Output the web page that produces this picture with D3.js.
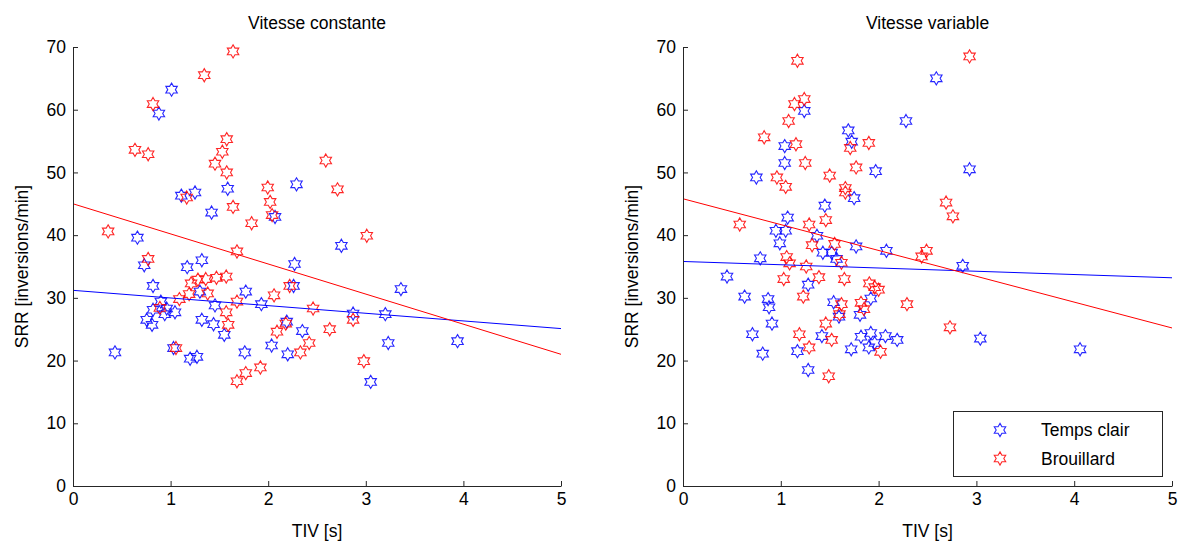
<!DOCTYPE html>
<html>
<head>
<meta charset="utf-8">
<script src="https://cdn.jsdelivr.net/npm/d3@7"></script>
<style>
  html, body { margin: 0; padding: 0; background: #fff; }
  svg text { font-family: "Liberation Sans", Arial, sans-serif; }
</style>
</head>
<body>
<svg id="chart" width="1180" height="547"></svg>
<script>
// ---------- data ----------
const xTicks = [0, 1, 2, 3, 4, 5];
const yTicks = [0, 10, 20, 30, 40, 50, 60, 70];
const panelTitles = ["Vitesse constante", "Vitesse variable"];
const seriesNames = ["Temps clair", "Brouillard"];
const xLabel = "TIV [s]";
const yLabel = "SRR [inversions/min]";

// Vitesse constante – Temps clair
const constClairTIV = [1.01,0.88,1.11,1.25,1.585,1.42,2.29,2.07,0.66,2.75,0.73,1.32,1.17,0.82,1.77,1.30,0.90,1.455,1.93,0.82,0.96,1.045,0.94,0.755,0.81,1.32,1.44,1.55,0.43,1.03,1.20,1.27,1.76,2.035,2.19,2.20,2.27,2.26,3.36,2.87,3.20,2.35,3.23,3.05,3.94];
const constClairSRR = [63.2,59.4,46.3,46.8,47.4,43.6,48.1,42.9,39.6,38.3,35.2,36.0,34.9,31.9,31.0,31.0,29.4,28.8,29.0,28.1,28.3,27.7,27.4,26.5,25.7,26.5,25.8,24.1,21.3,22.0,20.3,20.6,21.3,22.4,26.2,21.0,35.4,31.9,31.4,27.5,27.4,24.7,22.8,16.6,23.1];
// Vitesse constante – Brouillard
const constBrouTIV = [1.64,1.345,0.82,0.635,0.77,1.575,1.53,1.455,1.575,1.165,1.64,1.995,2.02,2.04,1.83,0.36,1.68,0.77,2.59,2.71,3.01,1.21,1.28,1.36,1.47,1.57,1.19,1.38,1.09,1.68,0.89,1.57,1.59,2.06,2.22,2.09,2.18,1.055,1.92,1.77,1.68,2.46,2.87,2.63,2.42,2.33,2.98];
const constBrouSRR = [69.3,65.5,60.9,53.6,52.9,55.3,53.3,51.4,50.0,46.0,44.5,47.6,45.3,43.2,41.9,40.6,37.4,36.2,51.9,47.3,39.9,32.3,32.9,33.0,33.2,33.4,30.6,30.7,29.8,29.4,28.4,27.7,25.7,30.4,31.9,24.6,25.9,22.0,18.9,18.0,16.7,28.3,26.5,25.0,22.8,21.3,19.9];
// Vitesse variable – Temps clair
const varClairTIV = [1.24,2.28,1.69,1.725,1.04,1.04,1.97,0.75,1.75,1.45,1.07,0.95,1.05,1.37,0.99,1.77,2.08,1.43,1.52,1.57,0.79,2.59,2.93,2.86,3.04,4.06,0.45,1.28,0.63,0.87,0.88,1.54,1.92,1.595,1.81,0.91,0.71,1.42,1.82,1.92,2.07,2.19,1.90,1.96,1.72,0.815,1.17,1.28];
const varClairSRR = [59.8,58.2,56.7,54.9,54.2,51.5,50.2,49.2,45.9,44.7,42.8,40.7,40.7,39.9,38.7,38.2,37.5,37.2,37.2,36.2,36.3,65.0,50.5,35.1,23.5,21.8,33.4,32.1,30.2,29.8,28.5,29.3,29.9,27.0,27.3,25.9,24.2,23.9,23.8,24.4,23.9,23.3,22.1,22.8,21.8,21.1,21.5,18.5];
// Vitesse variable – Brouillard
const varBrouTIV = [1.24,1.14,1.08,0.83,1.155,1.90,1.71,1.25,1.77,1.50,0.96,1.05,1.66,1.66,1.46,0.58,1.29,1.32,1.55,2.93,1.17,2.69,2.76,2.44,2.49,2.73,1.06,1.09,1.26,1.62,1.03,1.39,1.65,1.905,1.96,2.00,1.23,1.62,1.82,1.85,1.60,2.29,1.46,1.19,1.52,1.29,2.02,1.49];
const varBrouSRR = [61.7,60.9,58.2,55.6,54.5,54.7,53.9,51.5,50.8,49.5,49.2,47.7,47.5,46.8,42.4,41.7,41.7,38.4,38.6,68.5,67.8,45.2,43.0,36.6,37.5,25.3,36.5,35.5,35.0,35.6,33.0,33.3,33.0,32.3,31.7,31.3,30.2,29.0,29.2,28.2,27.4,29.0,25.9,24.2,23.3,22.1,21.4,17.5];

// Regression lines: SRR at TIV = 0 and TIV = 5
const fitX = [0, 5];
const constClairFit = [31.2, 25.1];
const constBrouFit = [45.0, 21.0];
const varClairFit = [35.8, 33.2];
const varBrouFit = [45.8, 25.2];

const colors = ["#0000ff", "#ff0000"];

// ---------- drawing ----------
const svg = d3.select("#chart");
const FONT = 17.5;
const panels = [
  { left: 73, right: 561, title: panelTitles[0],
    series: [ [constClairTIV, constClairSRR], [constBrouTIV, constBrouSRR] ],
    fits: [constClairFit, constBrouFit], legend: false },
  { left: 683, right: 1172, title: panelTitles[1],
    series: [ [varClairTIV, varClairSRR], [varBrouTIV, varBrouSRR] ],
    fits: [varClairFit, varBrouFit], legend: true }
];
const plotTop = 47, plotBottom = 486;

function hexagram(R) {
  const r = R / Math.sqrt(3);
  const pts = [];
  for (let k = 0; k < 12; k++) {
    const ang = (-90 + k * 30) * Math.PI / 180;
    const rad = (k % 2 === 0) ? R : r;
    pts.push([rad * Math.cos(ang), rad * Math.sin(ang)]);
  }
  return "M" + pts.map(p => p[0].toFixed(2) + "," + p[1].toFixed(2)).join("L") + "Z";
}
const starPath = hexagram(6.6);

panels.forEach(p => {
  const x = d3.scaleLinear().domain([0, 5]).range([p.left, p.right]);
  const y = d3.scaleLinear().domain([0, 70]).range([plotBottom, plotTop]);
  const g = svg.append("g");

  // markers
  p.series.forEach((s, i) => {
    const pts = s[0].map((v, j) => [v, s[1][j]]);
    g.append("g").selectAll("path").data(pts).join("path")
      .attr("d", starPath)
      .attr("transform", d => `translate(${x(d[0])},${y(d[1])})`)
      .attr("fill", "none")
      .attr("stroke", colors[i])
      .attr("stroke-width", 1.1)
      .attr("stroke-opacity", 0.85);
  });

  // regression lines
  p.fits.forEach((f, i) => {
    const line = d3.line().x(d => x(d[0])).y(d => y(d[1]));
    g.append("path")
      .attr("d", line(fitX.map((v, j) => [v, f[j]])))
      .attr("fill", "none")
      .attr("stroke", colors[i])
      .attr("stroke-width", 1);
  });

  // axes
  const xa = g.append("g").attr("transform", `translate(0,${plotBottom})`)
    .call(d3.axisBottom(x).tickValues(xTicks).tickFormat(d3.format("d"))
      .tickSizeInner(-5).tickSizeOuter(0).tickPadding(7));
  const ya = g.append("g").attr("transform", `translate(${p.left},0)`)
    .call(d3.axisLeft(y).tickValues(yTicks).tickFormat(d3.format("d"))
      .tickSizeInner(-5).tickSizeOuter(0).tickPadding(7));
  [xa, ya].forEach(a => {
    a.selectAll("text").attr("font-size", FONT).attr("fill", "#000")
      .attr("font-family", "Liberation Sans, Arial, sans-serif");
    a.select(".domain").attr("stroke", "#262626");
    a.selectAll(".tick line").attr("stroke", "#262626");
  });

  const cx = (p.left + p.right) / 2;
  g.append("text").attr("x", cx).attr("y", 29).attr("text-anchor", "middle")
    .attr("font-size", FONT).text(p.title);
  g.append("text").attr("x", cx).attr("y", 537).attr("text-anchor", "middle")
    .attr("font-size", FONT).text(xLabel);
  g.append("text")
    .attr("transform", `translate(${p.left - 45},${(plotTop + plotBottom) / 2}) rotate(-90)`)
    .attr("text-anchor", "middle").attr("font-size", FONT).text(yLabel);

  if (p.legend) {
    const lg = g.append("g");
    lg.append("rect").attr("x", 953.5).attr("y", 411.5).attr("width", 209).attr("height", 65)
      .attr("fill", "#fff").attr("stroke", "#262626").attr("stroke-width", 1);
    seriesNames.forEach((name, i) => {
      const yy = 430 + i * 28.5;
      lg.append("path").attr("d", starPath)
        .attr("transform", `translate(1000,${yy})`)
        .attr("fill", "none").attr("stroke", colors[i]).attr("stroke-width", 1.1)
        .attr("stroke-opacity", 0.85);
      lg.append("text").attr("x", 1041).attr("y", yy).attr("dy", "0.35em")
        .attr("font-size", FONT).text(name);
    });
  }
});
</script>
</body>
</html>
